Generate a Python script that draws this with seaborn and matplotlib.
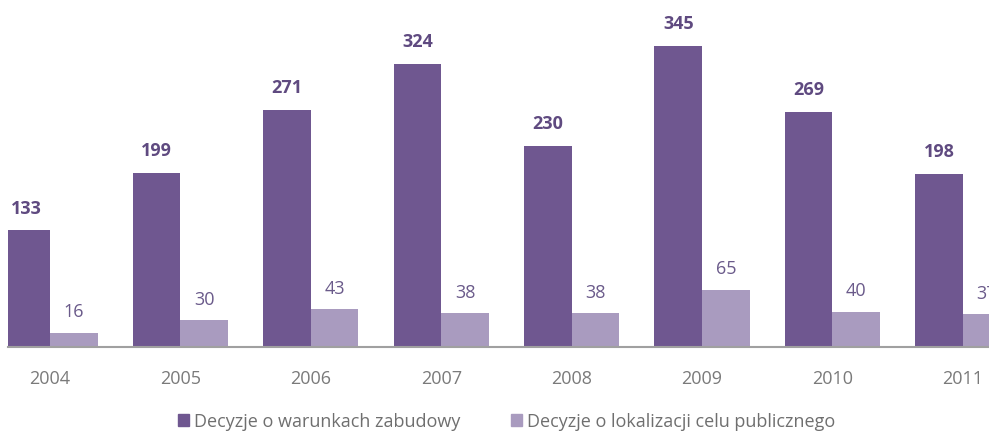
import numpy as np
import pandas as pd
import matplotlib.pyplot as plt
import seaborn as sns

#------------DATA----------
years = ['2004', '2005', '2006', '2007', '2008', '2009', '2010', '2011']
warunki = [133, 199, 271, 324, 230, 345, 269, 198]
lokalizacja = [16, 30, 43, 38, 38, 65, 40, 37]
series = ['Decyzje o warunkach zabudowy', 'Decyzje o lokalizacji celu publicznego']

df = pd.DataFrame({
    'Rok': years * 2,
    'Liczba': warunki + lokalizacja,
    'Typ': [series[0]] * len(years) + [series[1]] * len(years),
})

dark = '#6f5790'
light = '#a99bbf'

#------------PLOT----------
sns.set_style('white')
plt.rcParams['font.family'] = ['Open Sans', 'DejaVu Sans']

fig = plt.figure(figsize=(9.89, 4.35), dpi=100)
ax = fig.add_axes([8 / 989, 0.2011, 981 / 989, 0.7989])

sns.barplot(data=df, x='Rok', y='Liczba', hue='Typ',
            palette=[dark, light], width=0.73, gap=0,
            saturation=1, legend=False, edgecolor='none', ax=ax)

ax.set_xlim(-0.322, 7.2)
ax.set_ylim(0, 398.3)

# value labels
ax.bar_label(ax.containers[0], padding=10, fontsize=13,
             fontweight='bold', color='#5f4a80')
ax.bar_label(ax.containers[1], padding=9, fontsize=13,
             color='#6a5a8a')

for s in ['top', 'right', 'left']:
    ax.spines[s].set_visible(False)
ax.spines['bottom'].set_color('#a0a0a0')
ax.spines['bottom'].set_linewidth(1.5)
ax.set_yticks([])
ax.set_xlabel('')
ax.set_ylabel('')
ax.tick_params(axis='x', length=0, pad=16, labelsize=13, labelcolor='#7a7a7a')

# legend
handles = [plt.Rectangle((0, 0), 1, 1, color=dark),
           plt.Rectangle((0, 0), 1, 1, color=light)]
fig.legend(handles, series, loc='center', bbox_to_anchor=(0.512, 0.03),
           ncol=2, frameon=False, fontsize=13, labelcolor='#6f6f6f',
           handlelength=0.65, handleheight=0.65, handletextpad=0.25,
           columnspacing=2.8)

plt.savefig('out.png', dpi=100)
plt.close()
